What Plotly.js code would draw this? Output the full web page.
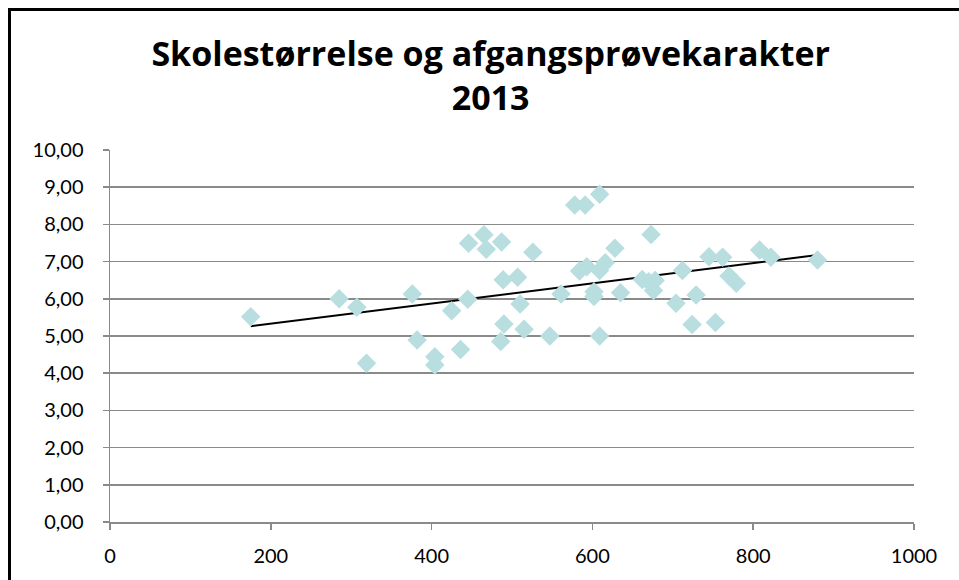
<!DOCTYPE html>
<html>
<head>
<meta charset="utf-8">
<script src="https://cdn.plot.ly/plotly-3.0.1.min.js"></script>
<style>
  html, body { margin: 0; padding: 0; background: #fff; overflow: hidden; }
  #frame {
    position: absolute; left: 8px; top: 8px;
    width: 1000px; height: 600px;
    border-left: 3px solid #000; border-top: 3px solid #000;
  }
</style>
</head>
<body>
<div id="frame"><div id="chart"></div></div>
<script>
// school size (pupils) vs. leaving exam grade, one point per school
const schoolSize = [
  175, 285, 307, 319, 376, 382, 404, 404, 425, 436,
  445, 446, 465, 468, 487, 489, 490, 486, 507, 510,
  515, 526, 547, 561, 578, 591, 609, 584, 593, 602,
  602, 609, 616, 628, 609, 635, 662, 673, 670, 678,
  676, 704, 712, 729, 724, 745, 753, 762, 770, 779,
  808, 822, 880
];
const examGrade = [
  5.52, 6.00, 5.77, 4.27, 6.13, 4.89, 4.44, 4.22, 5.68, 4.64,
  5.99, 7.49, 7.72, 7.33, 7.53, 6.51, 5.32, 4.85, 6.58, 5.86,
  5.18, 7.25, 5.00, 6.13, 8.52, 8.52, 8.81, 6.75, 6.86, 6.19,
  6.06, 6.76, 6.97, 7.36, 5.00, 6.16, 6.52, 7.73, 6.46, 6.49,
  6.22, 5.88, 6.76, 6.10, 5.31, 7.13, 5.36, 7.12, 6.61, 6.42,
  7.31, 7.12, 7.04
];
const xTicks = [0, 200, 400, 600, 800, 1000];
const yTicks = [0, 1, 2, 3, 4, 5, 6, 7, 8, 9, 10];

// linear trendline (least squares), drawn over the data's x span
function linearFit(xs, ys) {
  const n = xs.length;
  const mx = xs.reduce((a, b) => a + b, 0) / n;
  const my = ys.reduce((a, b) => a + b, 0) / n;
  let sxy = 0, sxx = 0;
  for (let i = 0; i < n; i++) {
    sxy += (xs[i] - mx) * (ys[i] - my);
    sxx += (xs[i] - mx) * (xs[i] - mx);
  }
  const slope = sxy / sxx;
  return { slope, intercept: my - slope * mx };
}
const fit = linearFit(schoolSize, examGrade);
const trendX = [Math.min(...schoolSize), Math.max(...schoolSize)];
const trendY = trendX.map(x => fit.intercept + fit.slope * x);

const tickFont = { family: 'Lato, "DejaVu Sans", sans-serif', size: 20, color: '#000' };
const gridGrey = '#8a8a8a';

const points = {
  x: schoolSize,
  y: examGrade,
  type: 'scatter',
  mode: 'markers',
  marker: { symbol: 'diamond', size: 15, color: '#b8dee0', line: { width: 0 } },
  hoverinfo: 'x+y'
};

const trend = {
  x: trendX,
  y: trendY,
  type: 'scatter',
  mode: 'lines',
  line: { color: '#000', width: 2 },
  hoverinfo: 'skip'
};

const layout = {
  width: 948,
  height: 569,
  showlegend: false,
  separators: ', ',
  title: {
    text: 'Skolestørrelse og afgangsprøvekarakter<br>2013',
    font: { family: '"Open Sans", Lato, sans-serif', size: 34, color: '#000', weight: 'bold' },
    x: 0.506,
    xanchor: 'center',
    y: 0.903,
    yanchor: 'top'
  },
  xaxis: {
    range: [0, 1000],
    tickvals: xTicks,
    ticktext: xTicks.map(String),
    showgrid: false,
    zeroline: false,
    showline: true,
    linecolor: gridGrey,
    linewidth: 1.5,
    ticks: 'outside',
    ticklen: 6,
    tickwidth: 1.5,
    tickcolor: gridGrey,
    tickfont: tickFont,
    ticklabelstandoff: 9,
    fixedrange: true
  },
  yaxis: {
    range: [0, 10],
    tickvals: yTicks,
    tickformat: '.2f',
    showgrid: true,
    gridcolor: gridGrey,
    gridwidth: 1.5,
    zeroline: false,
    showline: true,
    linecolor: gridGrey,
    linewidth: 1.5,
    ticks: 'outside',
    ticklen: 6,
    tickwidth: 1.5,
    tickcolor: gridGrey,
    tickfont: tickFont,
    ticklabelstandoff: 15,
    fixedrange: true
  },
  paper_bgcolor: '#fff',
  plot_bgcolor: '#fff',
  margin: { l: 99, r: 45, t: 139, b: 58 }
};

Plotly.newPlot('chart', [trend, points], layout, { displayModeBar: false, staticPlot: true });
</script>
</body>
</html>
